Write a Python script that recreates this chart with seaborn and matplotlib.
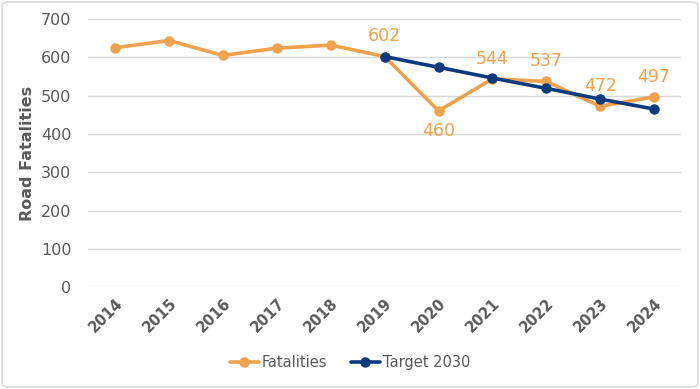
import numpy as np
import pandas as pd
import seaborn as sns
import matplotlib.pyplot as plt
from matplotlib.patches import FancyBboxPatch

# chart data
years = ["2014", "2015", "2016", "2017", "2018", "2019", "2020", "2021", "2022", "2023", "2024"]
fatalities = [625, 644, 605, 624, 632, 602, 460, 544, 537, 472, 497]
target_years = ["2019", "2020", "2021", "2022", "2023", "2024"]
target = [602, 574, 546, 519, 491, 465]

# which fatality points get a value label, and where (above/below)
labelled = {"2019": 1, "2020": -1, "2021": 1, "2022": 1, "2023": 1, "2024": 1}

orange = "#F0A24F"
navy = "#0D3A7C"
grey = "#595959"

sns.set_theme(style="white")
plt.rcParams["font.family"] = ["DejaVu Sans"]

df = pd.DataFrame({"year": years, "value": fatalities, "series": "Fatalities"})
df_t = pd.DataFrame({"year": target_years, "value": target, "series": "Target 2030"})
data = pd.concat([df, df_t], ignore_index=True)
data["x"] = data["year"].map({y: i for i, y in enumerate(years)})

fig = plt.figure(figsize=(7, 3.89), dpi=100)
ax = fig.add_axes([0.126, 0.262, 0.847, 0.689])

sns.lineplot(data=data, x="x", y="value", hue="series",
             palette={"Fatalities": orange, "Target 2030": navy},
             marker="o", markersize=7.5, markeredgewidth=0, linewidth=2.6,
             ax=ax, legend=True)

# value labels
for i, y in enumerate(years):
    if y in labelled:
        d = labelled[y]
        ax.annotate(str(fatalities[i]), (i, fatalities[i]), xytext=(0, 8 * d),
                    textcoords="offset points", ha="center",
                    va="bottom" if d > 0 else "top",
                    color=orange, fontsize=12.5)

ax.set_xlim(-0.5, len(years) - 0.5)
ax.set_ylim(0, 700)
ax.set_yticks(range(0, 701, 100))
ax.set_xticks(range(len(years)))
ax.set_xticklabels(years, rotation=45, ha="right", rotation_mode="anchor",
                   fontweight="bold", color=grey, fontsize=10.5)
ax.tick_params(axis="y", labelcolor=grey, labelsize=11.5, length=0, pad=12)
ax.tick_params(axis="x", length=0, pad=6)
ax.yaxis.grid(True, color="#D9D9D9", linewidth=1)
ax.set_axisbelow(True)
for s in ax.spines.values():
    s.set_visible(False)
ax.set_xlabel("")
ax.set_ylabel("Road Fatalities", fontweight="bold", color=grey, fontsize=11.5, labelpad=4)

leg = ax.legend(loc="center", ncol=2, frameon=False, fontsize=10.5, handlelength=2.0,
                handletextpad=0.2, columnspacing=1.6)
leg.set_bbox_to_anchor((0.5, 0.067), transform=fig.transFigure)
for t in leg.get_texts():
    t.set_color(grey)

# light outer frame
fig.patches.append(FancyBboxPatch((0.003, 0.005), 0.994, 0.99, boxstyle="round,pad=0,rounding_size=0.01",
                                  transform=fig.transFigure, fill=False,
                                  edgecolor="#D9D9D9", linewidth=1.2))

fig.savefig("out.png", dpi=100)
